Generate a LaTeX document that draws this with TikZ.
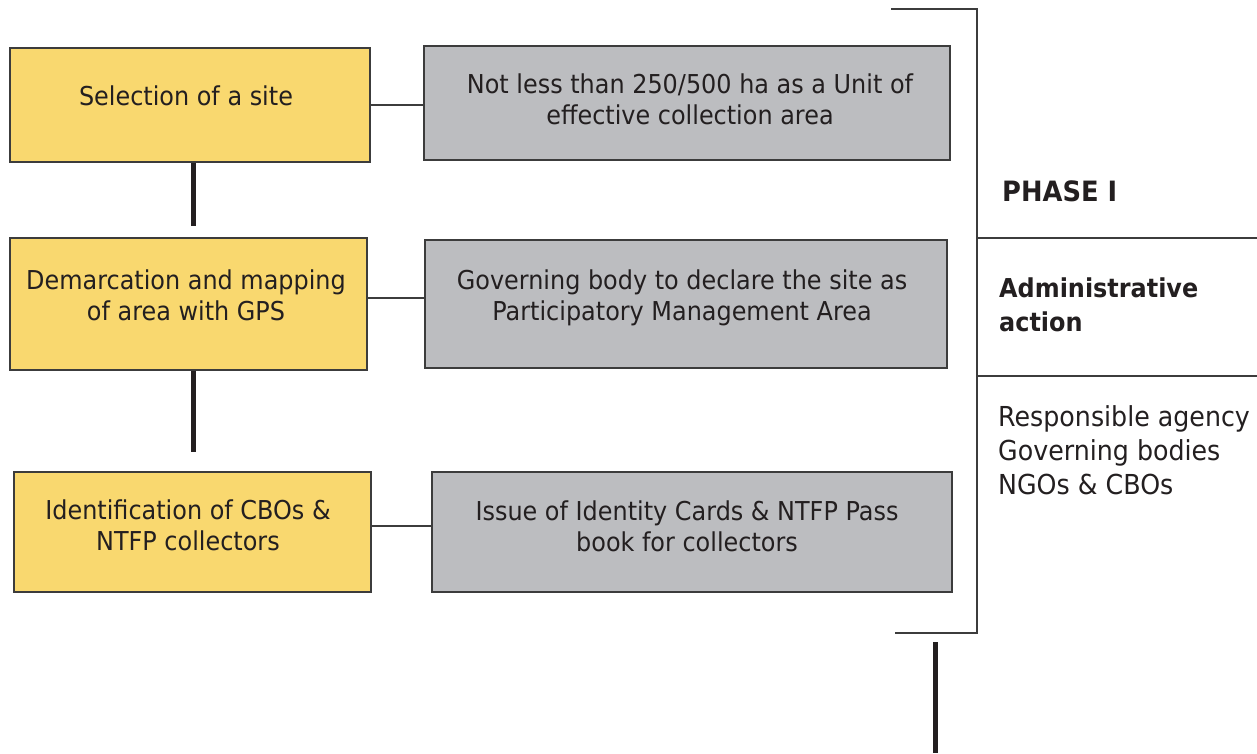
\documentclass[tikz,border=0pt]{standalone}
\usepackage{fontspec}
\setmainfont{DejaVu Sans}[FakeStretch=0.92]
\definecolor{ybox}{HTML}{F9D86F}
\definecolor{gbox}{HTML}{BCBDC0}
\definecolor{edgec}{HTML}{3C3C3C}
\definecolor{inkc}{HTML}{231F20}
\tikzset{
  yb/.style={draw=edgec, line width=1.3pt, fill=ybox, inner sep=0pt, rectangle},
  gb/.style={draw=edgec, line width=1.3pt, fill=gbox, inner sep=0pt, rectangle},
  txt/.style={align=center, inner sep=0pt, text=inkc, font=\fontsize{26}{31}\selectfont},
  rtxt/.style={align=left, anchor=west, inner sep=0pt, text=inkc, font=\fontsize{27.5}{34}\selectfont},
  thin/.style={draw=edgec, line width=1.3pt},
  thick/.style={draw=inkc, line width=5pt},
}
\begin{document}
\begin{tikzpicture}[x=1pt,y=-1pt]
\useasboundingbox (0,0) rectangle (1257,753);
% yellow boxes
\node[yb, minimum width=360pt, minimum height=114pt] (y1) at (190,105) {};
\node[yb, minimum width=357pt, minimum height=132pt] (y2) at (188.5,304) {};
\node[yb, minimum width=357pt, minimum height=120pt] (y3) at (192.5,532) {};
% grey boxes
\node[gb, minimum width=526pt, minimum height=114pt] (g1) at (687,103) {};
\node[gb, minimum width=522pt, minimum height=128pt] (g2) at (686,304) {};
\node[gb, minimum width=520pt, minimum height=120pt] (g3) at (692,532) {};
% texts
\node[txt] (ty1) at (186,96) {Selection of a site};
\node[txt] (ty2) at (186,295) {Demarcation and mapping\\of area with GPS};
\node[txt] (ty3) at (188,525) {Identification of CBOs \&\\NTFP collectors};
\node[txt] (tg1) at (690,99) {Not less than 250/500 ha as a Unit of\\effective collection area};
\node[txt] (tg2) at (682,298) {Governing body to declare the site as\\Participatory Management Area};
\node[txt] (tg3) at (687,526) {Issue of Identity Cards \& NTFP Pass\\book for collectors};
% connectors
\draw[thin] (y1.east |- 0,105) -- (g1.west |- 0,105);
\draw[thin] (y2.east |- 0,298) -- (g2.west |- 0,298);
\draw[thin] (y3.east |- 0,526) -- (g3.west |- 0,526);
\coordinate (e1) at (193,226);
\coordinate (e2) at (193,452);
\draw[thick] (y1.south -| 193,0) -- (e1);
\draw[thick] (y2.south -| 193,0) -- (e2);
% bracket
\coordinate (bt) at (891,9);
\coordinate (btc) at (977,9);
\coordinate (bbc) at (977,633);
\coordinate (bb) at (895,633);
\draw[thin] (bt) -- (btc) -- (bbc) -- (bb);
\coordinate (h1a) at (977,238);
\coordinate (h1b) at (1257,238);
\coordinate (h2a) at (977,376);
\coordinate (h2b) at (1257,376);
\draw[thin] (h1a) -- (h1b);
\draw[thin] (h2a) -- (h2b);
\coordinate (v3a) at (935,642);
\coordinate (v3b) at (935,753);
\draw[thick] (v3a) -- (v3b);
% right texts
\node[rtxt, font=\fontsize{28}{31}\selectfont\bfseries] (ph) at (1002,191) {PHASE I};
\node[rtxt, font=\fontsize{26}{34}\selectfont\bfseries] (adm) at (999,305) {Administrative\\action};
\node[rtxt] (resp) at (998,450) {Responsible agency\\Governing bodies\\NGOs \& CBOs};
\end{tikzpicture}
\end{document}
